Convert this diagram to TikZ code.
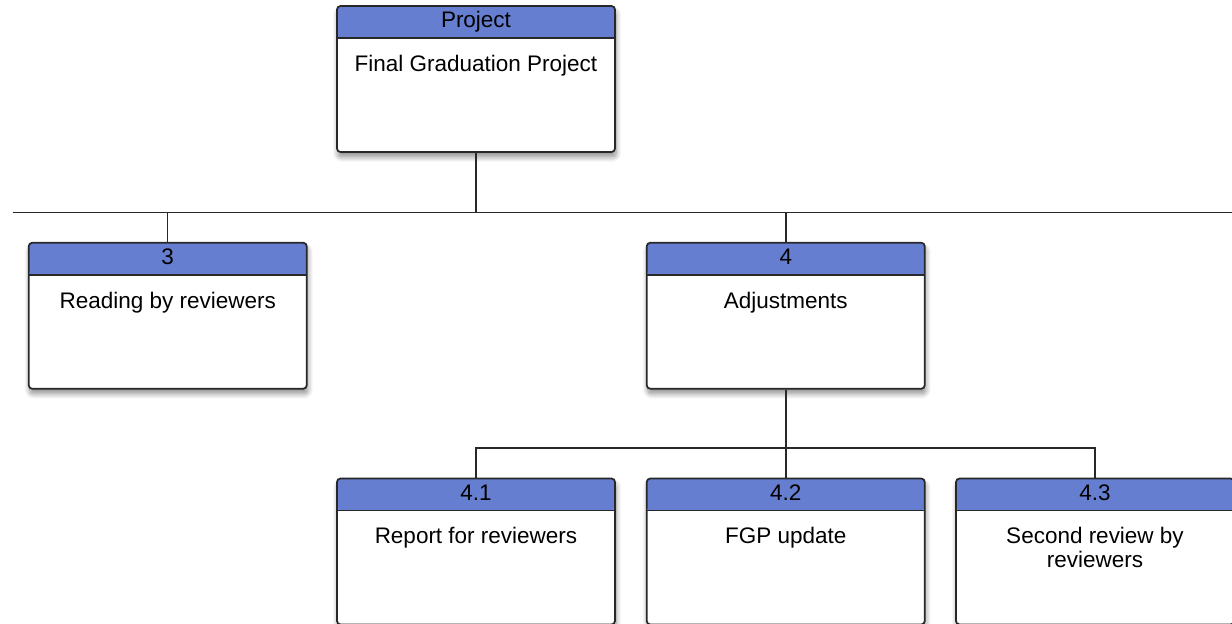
\documentclass[tikz,border=0pt]{standalone}
\usepackage{fontspec}
\setmainfont{Liberation Sans}
\usepackage{xcolor}
\usetikzlibrary{positioning,shadows.blur}

\definecolor{hdblue}{RGB}{102,126,208}
\definecolor{boxline}{RGB}{40,40,42}

\begin{document}
\begin{tikzpicture}[
box/.style={draw=boxline,line width=1pt,rounded corners=2pt,fill=white,
  minimum width=5.56cm,minimum height=2.92cm,inner sep=0pt,
  font=\fontsize{12.8}{13.4}\selectfont,
  blur shadow={shadow xshift=.6pt,shadow yshift=-2.8pt,shadow blur steps=10,shadow blur radius=3pt,shadow opacity=45},
  path picture={
    \fill[hdblue] (path picture bounding box.north west) rectangle ([yshift=-.64cm]path picture bounding box.north east);
    \draw[boxline,line width=1pt] ([yshift=-.64cm]path picture bounding box.north west) -- ([yshift=-.64cm]path picture bounding box.north east);
  },
  execute at begin node={\begin{minipage}[t][2.92cm][t]{5.3cm}\centering\vspace*{.98cm}},
  execute at end node={\end{minipage}}},
head/.style={font=\fontsize{12.8}{13.4}\selectfont,text height=1.6ex,text depth=.3ex,inner sep=0pt},
link/.style={draw=boxline,line width=.85pt}
]
\useasboundingbox (0,0) rectangle (24.64,-12.46);

% top box
\node[box] (p) at (9.52,-1.58) {Final Graduation Project};
\node[head] (p-h) at ([yshift=-.33cm]p.north) {Project};

% second level
\node[box,below left=1.78cm and .57cm of p] (b3) {Reading by reviewers};
\node[head] (b3-h) at ([yshift=-.33cm]b3.north) {3};
\node[box,below right=1.78cm and .6cm of p] (b4) {Adjustments};
\node[head] (b4-h) at ([yshift=-.33cm]b4.north) {4};

% third level
\node[box,below=1.76cm of b4] (b42) {FGP update};
\node[head] (b42-h) at ([yshift=-.33cm]b42.north) {4.2};
\node[box,left=.6cm of b42] (b41) {Report for reviewers};
\node[head] (b41-h) at ([yshift=-.33cm]b41.north) {4.1};
\node[box,right=.59cm of b42] (b43) {Second review by\\reviewers};
\node[head] (b43-h) at ([yshift=-.33cm]b43.north) {4.3};

% bus lines
\coordinate (busL) at (.25,-4.25);
\coordinate (busR) at (24.64,-4.25);
\coordinate (sub) at ([yshift=-1.17cm]b4.south);

\draw[link] (busL) -- (busR);
\draw[link] (p) -- (p |- busL);
\draw[link] (b3) -- (b3 |- busL);
\draw[link] (b4) -- (b4 |- busL);

\draw[link] (b4) -- (b42);
\draw[link] (b41) |- (sub) -| (b43);
\end{tikzpicture}
\end{document}
